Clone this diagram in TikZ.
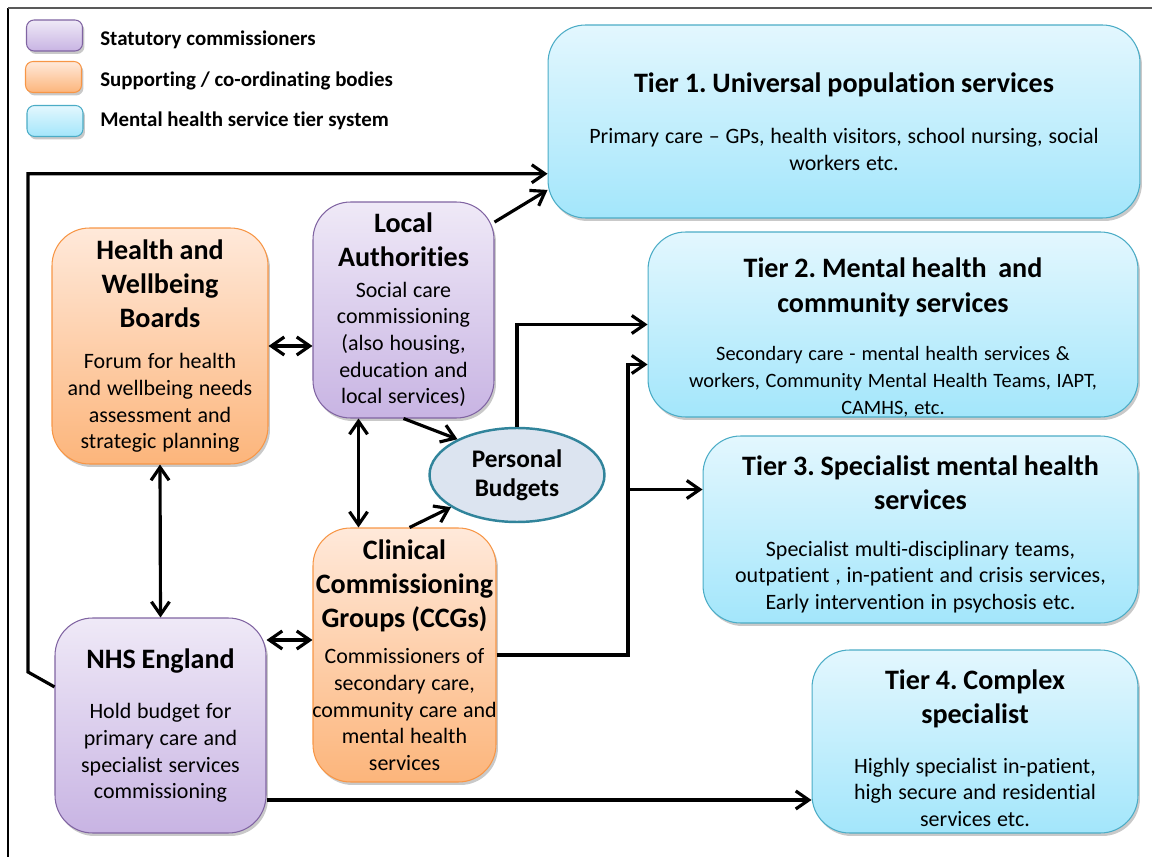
\documentclass[tikz,border=0pt]{standalone}
\usepackage{fontspec}
\setmainfont{Carlito}[Ligatures={TeX,NoCommon}]
\usepackage{tikz}
\usetikzlibrary{shapes}
\usetikzlibrary{shadows}
\usetikzlibrary{arrows.meta}
\usepackage{xcolor}
\frenchspacing

\definecolor{commtop}{HTML}{EFE9F7}
\definecolor{commbot}{HTML}{C8B4E3}
\definecolor{commline}{HTML}{8064A2}
\definecolor{supptop}{HTML}{FFE9DA}
\definecolor{suppbot}{HTML}{FCB57B}
\definecolor{suppline}{HTML}{F79646}
\definecolor{tiertop}{HTML}{E3F7FE}
\definecolor{tierbot}{HTML}{A3E6FB}
\definecolor{tierline}{HTML}{4BACC6}
\definecolor{budgetfill}{HTML}{DCE4F0}
\definecolor{budgetline}{HTML}{31849B}

\newcommand{\headfont}{\fontsize{16}{19.4}\selectfont\bfseries}
\newcommand{\descfont}{\fontsize{12.5}{15.2}\selectfont}
\newcommand{\keyfont}{\fontsize{11.9}{14}\selectfont\bfseries}

\begin{document}
\begin{tikzpicture}[x=0.02cm, y=-0.02cm,
    card/.style={rounded corners=0.75cm, inner sep=0pt, align=center, line width=0.6pt,
      drop shadow={shadow xshift=0.04cm, shadow yshift=-0.06cm, opacity=0.3, fill=black!70}},
    commcard/.style={card, draw=commline, top color=commtop, bottom color=commbot},
    suppcard/.style={card, draw=suppline, top color=supptop, bottom color=suppbot},
    tiercard/.style={card, draw=tierline, top color=tiertop, bottom color=tierbot},
    keycard/.style={rounded corners=0.15cm, minimum width=1.12cm, minimum height=0.62cm},
    keytext/.style={anchor=west, inner sep=0pt, font=\keyfont},
    link/.style={line width=1.8pt, -{Straight Barb[length=2.6mm,width=3.6mm]}},
    twoway/.style={line width=1.8pt, {Straight Barb[length=2.6mm,width=3.6mm]}-{Straight Barb[length=2.6mm,width=3.6mm]}}]
  \useasboundingbox (0,0) rectangle (1152,857);

  % frame
  \draw[line width=0.8pt] (8,857) -- (8,8);
  \draw[line width=1pt, black!65] (8,8) -- (1152,8);

  % key
  \node[commcard, keycard] (keycomm) at (54.5,35.5) {};
  \node[suppcard, keycard] (keysupp) at (53.5,77) {};
  \node[tiercard, keycard] (keytier) at (55,121) {};
  \node[keytext] (keycommtext) at (100,40) {Statutory commissioners};
  \node[keytext] (keysupptext) at (100,81) {Supporting / co-ordinating bodies};
  \node[keytext] (keytiertext) at (100,121) {Mental health service tier system};

  % tiers
  \node[tiercard, minimum width=11.84cm, minimum height=3.86cm, text width=11.4cm] (tierone) at (844,121.5)
    {{\headfont Tier 1. Universal population services\par}\vspace{14pt}
     {\descfont Primary care -- GPs, health visitors, school nursing, social\\workers etc.\par}};
  \node[tiercard, minimum width=9.8cm, minimum height=3.7cm, text width=9.4cm] (tiertwo) at (893,324.5)
    {{\headfont\rule{0pt}{26pt}Tier 2. Mental health\ \ and\\community services\par}\vspace{12.5pt}
     {\fontsize{11.6}{15.2}\selectfont Secondary care - mental health services \&\\workers, Community Mental Health Teams, IAPT,\\CAMHS, etc.\par}};
  \node[tiercard, minimum width=8.7cm, minimum height=3.74cm, text width=8.4cm] (tierthree) at (920.5,529.5)
    {{\headfont\rule{0pt}{16.5pt}Tier 3. Specialist mental health\\services\par}\vspace{11.5pt}
     {\descfont Specialist multi-disciplinary teams,\\outpatient , in-patient and crisis services,\\Early intervention in psychosis etc.\par}};
  \node[tiercard, minimum width=6.52cm, minimum height=3.66cm, text width=6.2cm] (tierfour) at (975,741.5)
    {{\headfont\rule{0pt}{19pt}Tier 4. Complex\\specialist\par}\vspace{13pt}
     {\descfont Highly specialist in-patient,\\high secure and residential\\services etc.\par}};

  % commissioners and boards
  \node[suppcard, minimum width=4.32cm, minimum height=4.72cm, text width=4.2cm] (hwb) at (160,346)
    {{\headfont Health and\\Wellbeing\\Boards\par}\vspace{8.5pt}
     {\descfont Forum for health\\and wellbeing needs\\assessment and\\strategic planning\par}};
  \node[commcard, minimum width=3.62cm, minimum height=4.32cm, text width=3.55cm] (la) at (403.5,310)
    {{\headfont Local\\Authorities\par}\vspace{2pt}
     {\descfont Social care\\commissioning\\(also housing,\\education and\\local services)\par}};
  \node[suppcard, minimum width=3.66cm, minimum height=5.08cm, text width=3.66cm] (ccg) at (404.5,655)
    {{\headfont Clinical\\\makebox[\linewidth]{Commissioning}\\\makebox[\linewidth]{Groups (CCGs)}\par}\vspace{5.5pt}
     {\descfont Commissioners of\\secondary care,\\\makebox[\linewidth]{community care and}\\mental health\\services\par}};
  \node[commcard, minimum width=4.22cm, minimum height=4.3cm, text width=4.1cm] (nhs) at (160.5,725.5)
    {{\headfont NHS England\par}\vspace{13.5pt}
     {\descfont Hold budget for\\primary care and\\specialist services\\commissioning\par}};
  \node[ellipse, draw=budgetline, line width=1.4pt, fill=budgetfill, inner sep=0pt,
    minimum width=3.5cm, minimum height=1.88cm, align=center,
    font=\fontsize{14.4}{16.5}\selectfont\bfseries] (pb) at (517,475) {Personal\\Budgets};

  % connectors
  \coordinate (bus) at (628,655);
  \draw[link] (nhs.160) -- (28,672) |- (tierone.190);
  \draw[link] (la.44) -- (tierone.193);
  \draw[twoway] (hwb.east) -- (hwb.east -| la.west);
  \draw[twoway] (hwb.south) -- (nhs.north);
  \draw[twoway] ([xshift=-0.9cm]la.south) -- ([xshift=-0.9cm]la.south |- ccg.north);
  \draw[twoway] ([yshift=0.3cm]ccg.west) -- ([yshift=0.3cm]ccg.west -| nhs.east);
  \draw[link] (la.south) -- (pb.149);
  \draw[link] ([xshift=0.1cm]ccg.north) -- (pb.206);
  \draw[link] (pb.north) |- (tiertwo.west);
  \draw[link] (ccg.east) -- (bus) |- ([yshift=-0.8cm]tiertwo.west);
  \draw[link] ([yshift=0.8cm]tierthree.west -| bus) -- ([yshift=0.8cm]tierthree.west);
  \draw[link] ([yshift=-1.49cm]nhs.east) -- ([yshift=-1.49cm]nhs.east -| tierfour.west);
\end{tikzpicture}
\end{document}
